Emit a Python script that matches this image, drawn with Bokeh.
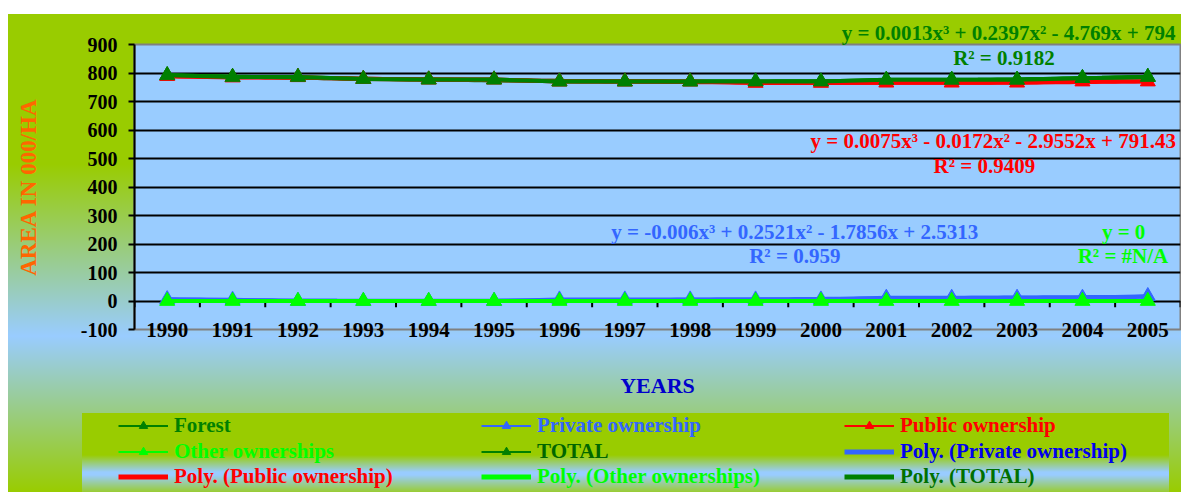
import numpy as np
from bokeh.plotting import figure
from bokeh.layouts import column
from bokeh.models import Range1d, FixedTicker, Label, Legend, LegendItem, Title
from bokeh.embed import file_html
from bokeh.resources import INLINE

# ---------------- data ----------------
years = [1990, 1991, 1992, 1993, 1994, 1995, 1996, 1997,
         1998, 1999, 2000, 2001, 2002, 2003, 2004, 2005]
forest = [792, 786, 786, 779, 777, 777, 770, 770, 770, 770, 770, 776, 776, 776, 782, 786]
private = [6, 4, 0, 0, 0, 0, 5, 5, 5, 5, 5, 11, 11, 11, 11, 17]
public = [789, 784, 785, 779, 777, 777, 770, 770, 770, 765, 765, 766, 766, 766, 770, 770]
other = [0, 0, 0, 0, 0, 0, 0, 0, 0, 0, 0, 0, 0, 0, 0, 0]
total = [792, 786, 786, 779, 777, 777, 770, 770, 770, 770, 770, 776, 776, 776, 782, 786]
y_ticks = [-100, 0, 100, 200, 300, 400, 500, 600, 700, 800, 900]

eq_total = "y = 0.0013x³ + 0.2397x² - 4.769x + 794"
r2_total = "R² = 0.9182"
eq_public = "y = 0.0075x³ - 0.0172x² - 2.9552x + 791.43"
r2_public = "R² = 0.9409"
eq_private = "y = -0.006x³ + 0.2521x² - 1.7856x + 2.5313"
r2_private = "R² = 0.959"
eq_other = "y = 0"
r2_other = "R² = #N/A"

# ---------------- styles ----------------
DG = "#008000"
BLUE = "#3366FF"
RED = "#FF0000"
LIME = "#00FF00"
FONT = "Liberation Serif"

p = figure(width=1181, height=405, output_backend="svg", toolbar_location=None,
           x_range=Range1d(1989.5, 2005.5), y_range=Range1d(-100, 900),
           min_border_left=134, min_border_right=1, min_border_top=44,
           min_border_bottom=76)
p.frame_align = False
p.border_fill_color = None
p.background_fill_color = "#99CCFF"
p.outline_line_color = "#808080"
p.outline_line_width = 2

# axes
p.yaxis.ticker = FixedTicker(ticks=y_ticks)
p.yaxis.major_label_overrides = {-100: "-100"}
p.yaxis.axis_line_color = "black"
p.yaxis.axis_line_width = 2
p.yaxis.major_tick_line_color = "black"
p.yaxis.major_tick_line_width = 2
p.yaxis.major_tick_out = 6
p.yaxis.major_tick_in = 0
p.yaxis.minor_tick_line_color = None
p.yaxis.major_label_standoff = 11
p.yaxis.major_label_text_font = FONT
p.yaxis.major_label_text_font_style = "bold"
p.yaxis.major_label_text_font_size = "20px"
p.yaxis.major_label_text_color = "black"
p.yaxis.axis_label = "AREA IN 000/HA"
p.yaxis.axis_label_text_font = FONT
p.yaxis.axis_label_text_font_style = "bold"
p.yaxis.axis_label_text_font_size = "23px"
p.yaxis.axis_label_text_color = "#FF6600"
p.yaxis.axis_label_standoff = 37

p.xaxis.ticker = FixedTicker(ticks=years)
p.xaxis.axis_line_color = None
p.xaxis.major_tick_line_color = None
p.xaxis.minor_tick_line_color = None
p.xaxis.major_tick_out = 0
p.xaxis.major_tick_in = 0
p.xaxis.major_label_standoff = -7
p.xaxis.major_label_text_font = FONT
p.xaxis.major_label_text_font_style = "bold"
p.xaxis.major_label_text_font_size = "21px"
p.xaxis.major_label_text_color = "black"
p.xaxis.axis_label = "YEARS"
p.xaxis.axis_label_text_font = FONT
p.xaxis.axis_label_text_font_style = "bold"
p.xaxis.axis_label_text_font_size = "22px"
p.xaxis.axis_label_text_color = "#0000CC"
p.xaxis.axis_label_standoff = 33

p.xgrid.visible = False
p.ygrid.grid_line_color = "black"
p.ygrid.grid_line_width = 2

# category tick marks on the zero line (between categories)
bounds = [y - 0.5 for y in years] + [years[-1] + 0.5]
p.segment(x0=bounds, y0=[0] * len(bounds), x1=bounds, y1=[-22] * len(bounds),
          line_color="black", line_width=2)

# ---------------- polynomial trendlines (3rd order fit) ----------------
xi = np.arange(1, len(years) + 1)
xs = np.linspace(1, len(years), 151)
x_trend = years[0] - 1 + xs


def trend(vals):
    c = np.polyfit(xi, np.asarray(vals, dtype=float), 3)
    return np.polyval(c, xs)


p.line(x_trend, trend(private), line_color=BLUE, line_width=4)
p.line(x_trend, trend(public), line_color=RED, line_width=4)
p.line(x_trend, trend(other), line_color=LIME, line_width=4)
p.line(x_trend, trend(total), line_color=DG, line_width=4)

# ---------------- series ----------------
MS = 15


def series(vals, color):
    p.line(years, vals, line_color=color, line_width=4)
    p.scatter(years, vals, marker="triangle", size=MS,
              fill_color=color, line_color=color)


series(forest, DG)
series(private, BLUE)
series(public, RED)
series(other, LIME)
series(total, DG)

# ---------------- trendline labels ----------------
p.add_layout(Title(text=eq_total, align="right", offset=5, standoff=0,
                   text_color=DG, text_font=FONT, text_font_style="bold",
                   text_font_size="21px"), "above")


def lab(x, y, text, color, align):
    p.add_layout(Label(x=x, y=y, text=text, text_color=color, text_font=FONT,
                       text_font_style="bold", text_font_size="21px",
                       text_align=align, text_baseline="middle"))


lab(2002.8, 853, r2_total, DG, "center")
lab(2005.43, 560, eq_public, RED, "right")
lab(2002.5, 472, r2_public, RED, "center")
lab(1999.6, 242, eq_private, BLUE, "center")
lab(1999.6, 158, r2_private, BLUE, "center")
lab(2004.63, 242, eq_other, LIME, "center")
lab(2004.62, 158, r2_other, LIME, "center")

# ---------------- legend panel (3 x 3 grid) ----------------
pl = figure(width=1181, height=87, output_backend="svg", toolbar_location=None,
            x_range=Range1d(0, 1), y_range=Range1d(0, 1),
            x_axis_type=None, y_axis_type=None,
            min_border=0, min_border_left=0, min_border_right=0,
            min_border_top=0, min_border_bottom=0)
pl.frame_align = False
pl.border_fill_color = None
pl.background_fill_color = None
pl.outline_line_color = None


# legend swatches reuse the series styles (their data lie outside this panel's view)
def swatch_series(vals, color):
    ln = pl.line(years, vals, line_color=color, line_width=2)
    mk = pl.scatter(years, vals, marker="triangle", size=14,
                    fill_color=color, line_color=color)
    return [ln, mk]


def swatch_poly(vals, color):
    return [pl.line(x_trend, trend(vals), line_color=color, line_width=5)]


leg_x = [118, 481, 844]
leg_y = [54.5, 28.5, 3.5]


def add_leg(label, renderers, color, col, row):
    leg = Legend(items=[LegendItem(label=label, renderers=renderers)],
                 location=(leg_x[col], leg_y[row]), orientation="vertical",
                 padding=0, spacing=0, margin=0,
                 glyph_width=50, glyph_height=21, label_height=21,
                 label_standoff=6, label_text_font=FONT,
                 label_text_font_style="bold", label_text_font_size="21px",
                 label_text_color=color, label_text_baseline="middle",
                 background_fill_alpha=0, border_line_alpha=0)
    pl.add_layout(leg)


add_leg("Forest", swatch_series(forest, DG), DG, 0, 0)
add_leg("Private ownership", swatch_series(private, BLUE), BLUE, 1, 0)
add_leg("Public ownership", swatch_series(public, RED), RED, 2, 0)
add_leg("Other ownerships", swatch_series(other, LIME), LIME, 0, 1)
add_leg("TOTAL", swatch_series(total, DG), "#006600", 1, 1)
add_leg("Poly. (Private ownership)", swatch_poly(private, BLUE), "#0000EE", 2, 1)
add_leg("Poly. (Public ownership)", swatch_poly(public, RED), RED, 0, 2)
add_leg("Poly. (Other ownerships)", swatch_poly(other, LIME), LIME, 1, 2)
add_leg("Poly. (TOTAL)", swatch_poly(total, DG), "#007000", 2, 2)

layout = column(p, pl, spacing=0)
layout.styles = {
    "background": (
        "linear-gradient(#99CC00 0px, #99CC00 42px, #99CCFF 59px, #99CCFF 62px, #99CC33 79px) "
        "82px 413px / 1087px 90px no-repeat, "
        "linear-gradient(#99CC00 0px, #99CC00 150px, #99CCFF 322px, #99CC00 478px) "
        "8px 14px / 1173px 478px no-repeat"
    ),
}

open("out.html", "w").write(file_html(layout, INLINE))
